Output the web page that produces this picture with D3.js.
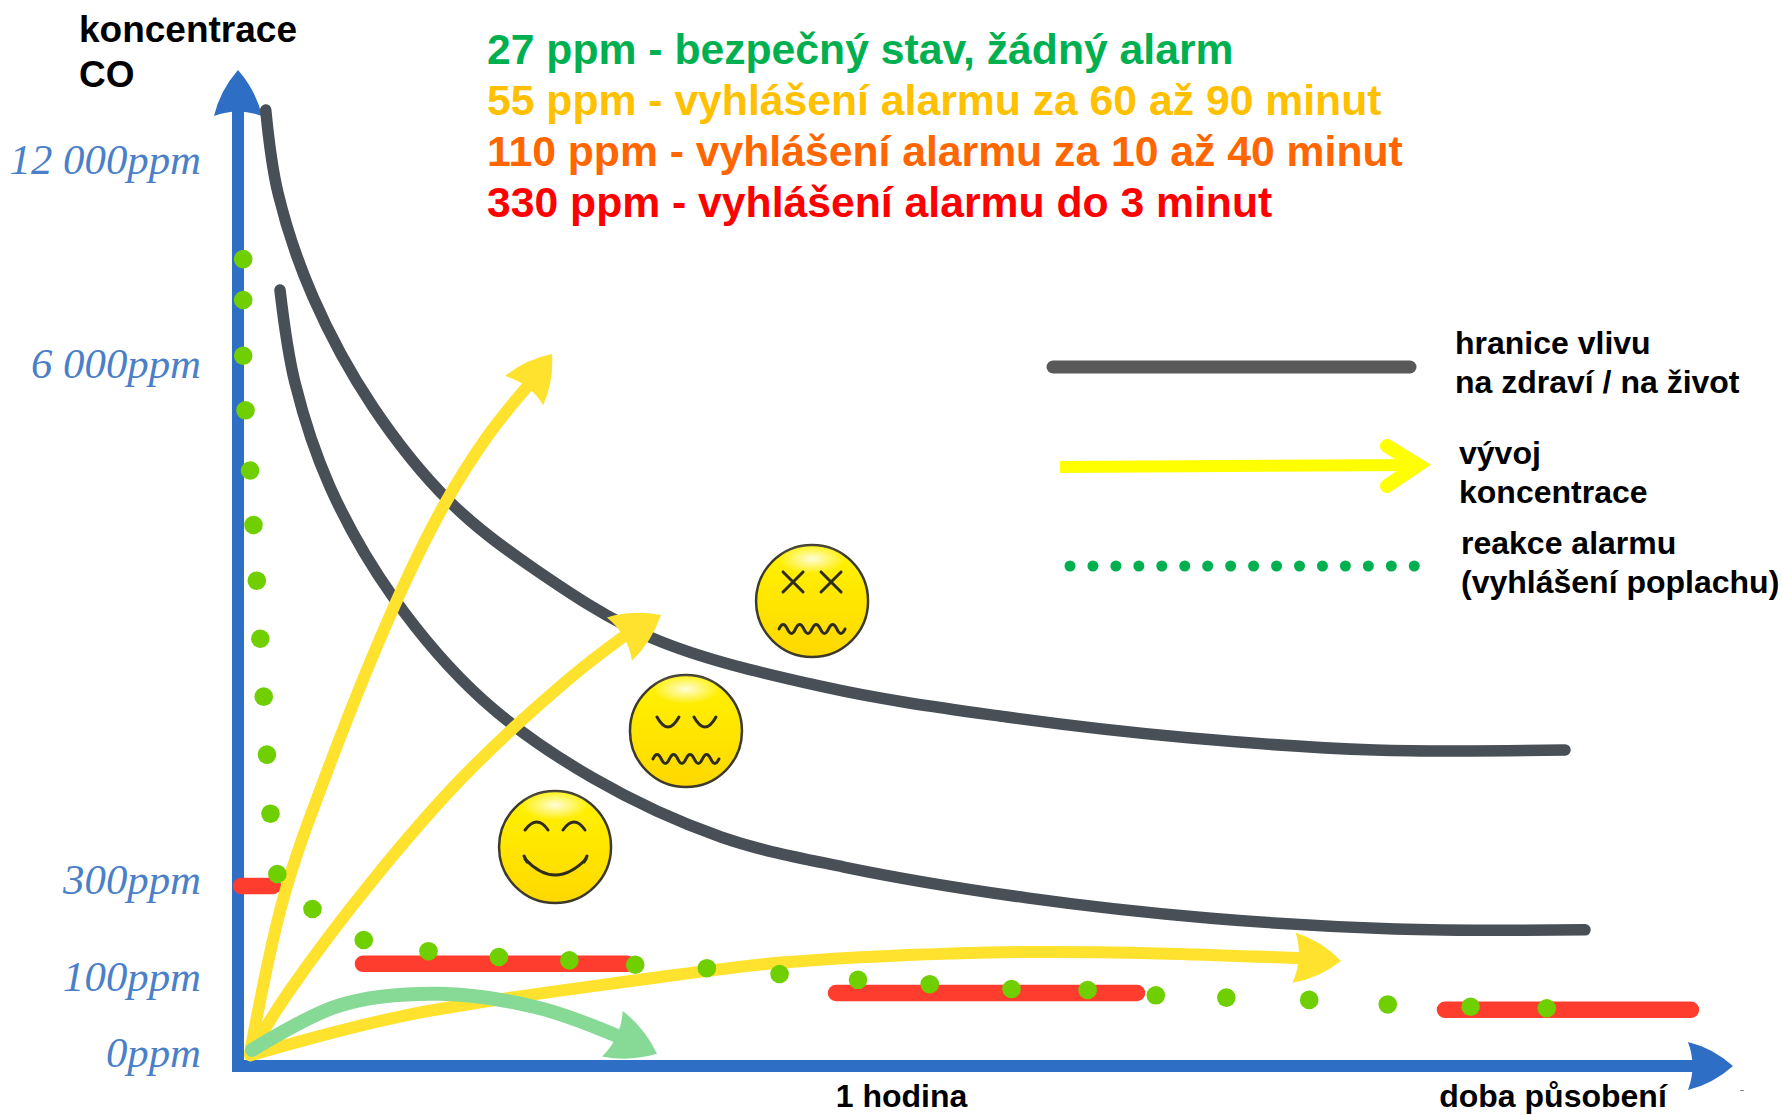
<!DOCTYPE html>
<html lang="cs">
<head>
<meta charset="utf-8">
<title>Koncentrace CO</title>
<script src="https://cdn.jsdelivr.net/npm/d3@7/dist/d3.min.js"></script>
<style>
  html, body { margin: 0; padding: 0; background: #fff; }
  svg { display: block; }
  text { font-family: "Liberation Sans", Arial, sans-serif; font-weight: 700; fill: #000; }
</style>
</head>
<body>
<div id="chart"></div>
<script>
// values: [minutes, ppm]
const yTicks = [0, 100, 300, 6000, 12000];
const yTickLabels = ['0ppm', '100ppm', '300ppm', '6 000ppm', '12 000ppm'];
const xTicks = [60];
const xTickLabels = ['1 hodina'];

const limitUpper = [
  [2.51, 13852], [3.62, 11411], [6.79, 8353], [12.22, 5669], [19.19, 4619], [26.7, 3890],
  [37.47, 3117], [53.03, 2576], [69.59, 2244], [86.24, 2012], [102.9, 1880], [120.09, 1880],
];
const limitLower = [
  [3.8, 8559], [5.16, 5934], [8.33, 4785], [14.03, 3570], [22.17, 2432], [32.13, 1570],
  [43.71, 919], [54.84, 587], [71.4, 290], [88.05, 248], [104.71, 226], [121.9, 224],
];

const riseFast = [
  [1.09, 17], [4.07, 286], [8.05, 1637], [14.39, 3537], [18.55, 4564], [22.53, 5337], [26.15, 5890], [28.42, 6676],
];
const riseMedium = [
  [1.09, 17], [4.71, 100], [12.22, 444], [20.36, 1581], [30.05, 2675], [34.84, 3128], [38.28, 3371],
];
const riseSlow = [
  [1.09, 14], [15.29, 67], [36.38, 121], [48.87, 156], [65.43, 176], [77.92, 178], [95.84, 166], [99.82, 160],
];
const riseSafe = [
  [1.27, 21], [9.23, 80], [18.28, 95], [27.33, 76], [34.57, 38], [37.92, 16],
];

// alarm windows: from minute, to minute, ppm
const alarmBars = [
  [0.27, 3.17, 377],
  [11.31, 35.2, 154],
  [54.12, 81.36, 96],
  [109.23, 131.49, 74],
];

const alarmDots = [
  [0.47, 9467], [0.47, 8265], [0.47, 6626], [0.68, 5632], [1.09, 4967], [1.4, 4365],
  [1.7, 3750], [2.02, 3109], [2.33, 2469], [2.62, 1829], [2.94, 1176], [3.56, 510],
  [6.74, 267], [11.38, 203], [17.24, 180], [23.61, 168], [29.99, 161], [35.95, 152],
  [42.43, 145], [49.01, 133], [56.11, 121], [62.6, 112], [70, 102], [76.89, 100],
  [83.06, 93], [89.44, 90], [96.94, 87], [104.05, 81], [111.55, 78], [118.44, 76],
];

const faces = [
  { kind: 'happy', t: 28.69, ppm: 808 },
  { kind: 'ill', t: 40.54, ppm: 2090 },
  { kind: 'dead', t: 51.95, ppm: 3526 },
];

const headerLines = [
  '27 ppm - bezpečný stav, žádný alarm',
  '55 ppm - vyhlášení alarmu za 60 až 90 minut',
  '110 ppm - vyhlášení alarmu za 10 až 40 minut',
  '330 ppm - vyhlášení alarmu do 3 minut',
];
const headerColors = ['#00b050', '#ffc000', '#ff6600', '#ff0000'];
const legendDotCount = d3.range(16);

const svgWidth = 1782;
const svgHeight = 1115;
const AXIS_BLUE = '#2e6ec4';
const ARROW_YELLOW = '#ffe22e';
const LIMIT_GRAY = '#484f56';

const svg = d3.select('#chart').append('svg').attr('width', svgWidth).attr('height', svgHeight);

const defs = svg.append('defs');
const faceGrad = defs.append('linearGradient').attr('id', 'faceFill').attr('x1', 0).attr('x2', 0).attr('y1', 0).attr('y2', 1);
faceGrad.append('stop').attr('offset', '0%').attr('stop-color', '#fff400');
faceGrad.append('stop').attr('offset', '100%').attr('stop-color', '#ffd800');
const shineGrad = defs.append('radialGradient').attr('id', 'faceShine');
shineGrad.append('stop').attr('offset', '0%').attr('stop-color', '#fff').attr('stop-opacity', 0.85);
shineGrad.append('stop').attr('offset', '100%').attr('stop-color', '#fff').attr('stop-opacity', 0);

// schematic axis: the y ticks are not evenly spaced
const x = d3.scaleLinear().domain([0, 60]).range([238, 901]);
const y = d3.scaleLinear().domain(yTicks).range([1066, 990, 893, 377, 173]);

const line = d3.line().x((d) => x(d[0])).y((d) => y(d[1])).curve(d3.curveCatmullRom.alpha(0.5));

const arrowHead = (g, tip, tail, length, half, fill) => {
  const dx = tip[0] - tail[0];
  const dy = tip[1] - tail[1];
  const n = Math.hypot(dx, dy);
  const ux = dx / n;
  const uy = dy / n;
  const bx = tip[0] - ux * length;
  const by = tip[1] - uy * length;
  const nx = bx + ux * length * 0.2;
  const ny = by + uy * length * 0.2;
  g.append('path')
    .attr('fill', fill)
    .attr('d', `M${tip[0]},${tip[1]}`
      + `Q${tip[0] - ux * length * 0.45 - uy * half * 0.75},${tip[1] - uy * length * 0.45 + ux * half * 0.75} ${bx - uy * half},${by + ux * half}`
      + `Q${nx},${ny} ${bx + uy * half},${by - ux * half}`
      + `Q${tip[0] - ux * length * 0.45 + uy * half * 0.75},${tip[1] - uy * length * 0.45 - ux * half * 0.75} ${tip[0]},${tip[1]}Z`);
};

// axes
const axisLayer = svg.append('g');
axisLayer.append('line')
  .attr('x1', x(0)).attr('x2', 1700)
  .attr('y1', y(0)).attr('y2', y(0))
  .attr('stroke', AXIS_BLUE).attr('stroke-width', 12);
axisLayer.append('line')
  .attr('x1', x(0)).attr('x2', x(0))
  .attr('y1', y(0) + 6).attr('y2', 100)
  .attr('stroke', AXIS_BLUE).attr('stroke-width', 12);
arrowHead(axisLayer, [x(0), 70], [x(0), 200], 46, 24, AXIS_BLUE);
arrowHead(axisLayer, [1733, y(0)], [1500, y(0)], 45, 24, AXIS_BLUE);
axisLayer.append('rect').attr('x', 1740).attr('y', 1090).attr('width', 4).attr('height', 1).attr('fill', '#888');

const yAxis = d3.axisLeft(y)
  .tickValues(yTicks)
  .tickSize(0)
  .tickPadding(37)
  .tickFormat((d, i) => yTickLabels[i]);
const yAxisG = svg.append('g').attr('transform', `translate(${x(0)},0)`).call(yAxis);
yAxisG.select('.domain').remove();
yAxisG.selectAll('text')
  .attr('dy', 0)
  .style('font-family', '"Liberation Serif", serif')
  .style('font-style', 'italic')
  .style('font-weight', 400)
  .style('font-size', '42.8px')
  .style('fill', '#4a80c8');

const xAxis = d3.axisBottom(x)
  .tickValues(xTicks)
  .tickSize(0)
  .tickPadding(41)
  .tickFormat((d, i) => xTickLabels[i]);
const xAxisG = svg.append('g').attr('transform', `translate(0,${y(0)})`).call(xAxis);
xAxisG.select('.domain').remove();
xAxisG.selectAll('text').attr('dy', 0).style('font-size', '32px').style('font-family', '"Liberation Sans", sans-serif').style('fill', '#000');

svg.append('text').attr('x', 1553).attr('y', 1107).attr('text-anchor', 'middle').style('font-size', '32px').text('doba působení');
svg.append('text').attr('x', 79).attr('y', 42).style('font-size', '37px').text('koncentrace');
svg.append('text').attr('x', 79).attr('y', 87).style('font-size', '37px').text('CO');

// limit curves
svg.selectAll('.limit')
  .data([limitUpper, limitLower])
  .join('path')
  .attr('class', 'limit')
  .attr('fill', 'none')
  .attr('stroke', LIMIT_GRAY)
  .attr('stroke-width', 11.5)
  .attr('stroke-linecap', 'round')
  .attr('d', line);

// alarm windows
svg.selectAll('.alarm-bar')
  .data(alarmBars)
  .join('line')
  .attr('class', 'alarm-bar')
  .attr('x1', (d) => x(d[0]))
  .attr('x2', (d) => x(d[1]))
  .attr('y1', (d) => y(d[2]))
  .attr('y2', (d) => y(d[2]))
  .attr('stroke', '#ff3d2e')
  .attr('stroke-width', 16.5)
  .attr('stroke-linecap', 'round');

// concentration arrows
const drawRise = (series, color, width, length, half) => {
  const g = svg.append('g');
  g.append('path')
    .datum(series.slice(0, -1))
    .attr('fill', 'none')
    .attr('stroke', color)
    .attr('stroke-width', width)
    .attr('stroke-linecap', 'round')
    .attr('d', line);
  const tip = series[series.length - 1];
  const tail = series[series.length - 2];
  arrowHead(g, [x(tip[0]), y(tip[1])], [x(tail[0]), y(tail[1])], length, half, color);
};
drawRise(riseFast, ARROW_YELLOW, 12, 46, 24);
drawRise(riseMedium, ARROW_YELLOW, 12, 48, 25);
drawRise(riseSlow, ARROW_YELLOW, 12, 47, 25);
drawRise(riseSafe, '#87da96', 14, 49, 25);

// alarm reaction dots
svg.selectAll('.alarm-dot')
  .data(alarmDots)
  .join('circle')
  .attr('class', 'alarm-dot')
  .attr('cx', (d) => x(d[0]))
  .attr('cy', (d) => y(d[1]))
  .attr('r', 9.3)
  .attr('fill', '#6fcf00');

// faces
const wave = 'M-33,28q4.1,-9 8.25,0' + 't8.25,0'.repeat(7);
const faceMarks = {
  happy: ['M-30,-17Q-18,-33 -7,-17', 'M8,-17Q19,-33 30,-17', 'M-30,12Q0,44 31,12', 'M-31,9L-28,15', 'M32,9L29,15'],
  ill: ['M-29,-14Q-18,6 -7,-14', 'M8,-14Q19,6 30,-14', wave],
  dead: ['M-29,-29L-9,-9', 'M-9,-29L-29,-9', 'M9,-29L29,-9', 'M29,-29L9,-9', wave],
};
const faceG = svg.selectAll('.face')
  .data(faces)
  .join('g')
  .attr('class', 'face')
  .attr('transform', (d) => `translate(${x(d.t)},${y(d.ppm)})`);
faceG.append('circle').attr('r', 56).attr('fill', 'url(#faceFill)').attr('stroke', '#3c3a2c').attr('stroke-width', 2.5);
faceG.append('ellipse').attr('cy', -42).attr('rx', 34).attr('ry', 15).attr('fill', 'url(#faceShine)');
faceG.selectAll('.feature')
  .data((d) => faceMarks[d.kind])
  .join('path')
  .attr('class', 'feature')
  .attr('fill', 'none')
  .attr('stroke', '#2f2c1a')
  .attr('stroke-width', 3)
  .attr('stroke-linecap', 'round')
  .attr('d', (d) => d);

// header
svg.selectAll('.header')
  .data(headerLines)
  .join('text')
  .attr('class', 'header')
  .attr('x', 487)
  .attr('y', (d, i) => 63.5 + i * 51)
  .style('font-size', '42.7px')
  .style('fill', (d, i) => headerColors[i])
  .text((d) => d);

// legend
const legend = svg.append('g');
legend.append('line')
  .attr('x1', 1053).attr('x2', 1410).attr('y1', 367).attr('y2', 367)
  .attr('stroke', '#595959').attr('stroke-width', 13).attr('stroke-linecap', 'round');
legend.append('line')
  .attr('x1', 1060).attr('x2', 1418).attr('y1', 467).attr('y2', 465)
  .attr('stroke', '#ffff00').attr('stroke-width', 12);
legend.append('path')
  .attr('d', 'M1387,446L1418,465L1387,486')
  .attr('fill', 'none').attr('stroke', '#ffff00').attr('stroke-width', 14).attr('stroke-linecap', 'round').attr('stroke-linejoin', 'miter');
legend.selectAll('.legend-dot')
  .data(legendDotCount)
  .join('circle')
  .attr('class', 'legend-dot')
  .attr('cx', (d) => 1070 + d * 22.95)
  .attr('cy', 566)
  .attr('r', 5.5)
  .attr('fill', '#00b050');

const legendLabels = [
  ['hranice vlivu', 1455, 354],
  ['na zdraví / na život', 1455, 393],
  ['vývoj', 1459, 464],
  ['koncentrace', 1459, 503],
  ['reakce alarmu', 1461, 554],
  ['(vyhlášení poplachu)', 1461, 593],
];
legend.selectAll('.legend-label')
  .data(legendLabels)
  .join('text')
  .attr('class', 'legend-label')
  .attr('x', (d) => d[1])
  .attr('y', (d) => d[2])
  .style('font-size', '32px')
  .text((d) => d[0]);
</script>
</body>
</html>
